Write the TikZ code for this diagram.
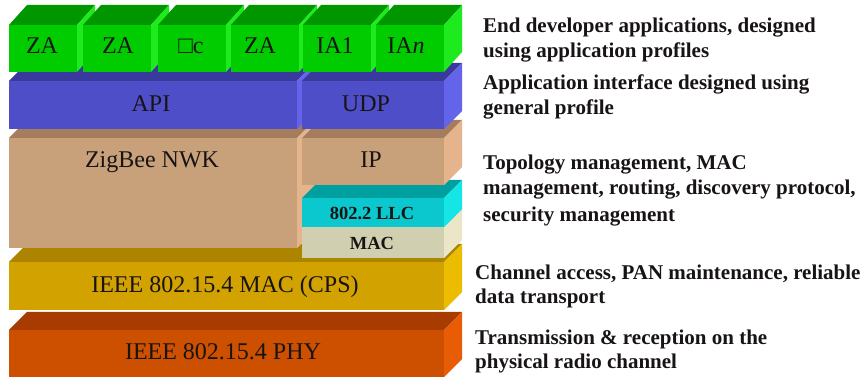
\documentclass[tikz,border=0pt]{standalone}
\usepackage{fontspec}
\setmainfont{Liberation Serif}
\definecolor{grnF}{RGB}{0,204,0}
\definecolor{grnT}{RGB}{0,150,0}
\definecolor{grnS}{RGB}{30,235,30}
\definecolor{bluF}{RGB}{78,78,200}
\definecolor{bluT}{RGB}{58,58,158}
\definecolor{bluS}{RGB}{100,100,235}
\definecolor{tanF}{RGB}{200,160,122}
\definecolor{tanT}{RGB}{165,125,92}
\definecolor{tanS}{RGB}{230,180,140}
\definecolor{cyaF}{RGB}{10,200,205}
\definecolor{cyaT}{RGB}{0,160,160}
\definecolor{cyaS}{RGB}{20,230,230}
\definecolor{begF}{RGB}{208,208,176}
\definecolor{begT}{RGB}{180,180,150}
\definecolor{begS}{RGB}{235,230,200}
\definecolor{ylwF}{RGB}{210,162,0}
\definecolor{ylwT}{RGB}{172,132,0}
\definecolor{ylwS}{RGB}{235,188,0}
\definecolor{orgF}{RGB}{205,80,0}
\definecolor{orgT}{RGB}{168,60,0}
\definecolor{orgS}{RGB}{232,92,5}
\definecolor{inkc}{RGB}{25,20,20}
% x1, x2, ytop, ybot, depth-y, colour prefix
\newcommand\mkslab[6]{%
  \fill[#6T] (#1,-#3) -- (#1+18,-#3+#5) -- (#2+18,-#3+#5) -- (#2,-#3) -- cycle;
  \fill[#6S] (#2,-#3) -- (#2+18,-#3+#5) -- (#2+18,-#4+#5) -- (#2,-#4) -- cycle;
  \fill[#6F] (#1,-#3) rectangle (#2,-#4);
}
\tikzset{
  boxlbl/.style={anchor=base, inner sep=0pt, text=inkc, font=\fontsize{24}{28}\selectfont},
  smalllbl/.style={anchor=base, inner sep=0pt, text=inkc, font=\fontsize{18.5}{22}\selectfont\bfseries},
  desc/.style={anchor=base west, inner sep=0pt, text=inkc, font=\fontsize{21}{25}\selectfont\bfseries}
}
\begin{document}
\begin{tikzpicture}[x=1pt,y=1pt]
\useasboundingbox (0,0) rectangle (860,-379);
\fill[white] (0,0) rectangle (860,-379);
% bottom layers
\mkslab{9}{444}{330}{377}{18}{org}
\mkslab{9}{444}{262}{310}{18}{ylw}
% network layer
\mkslab{9}{297}{138}{248}{18}{tan}
\mkslab{302}{444}{227}{258}{18}{beg}
\mkslab{302}{444}{198}{227}{18}{cya}
\mkslab{302}{444}{138}{185}{18}{tan}
% API / UDP
\mkslab{9}{297}{81}{129}{18}{blu}
\mkslab{302}{444}{81}{129}{18}{blu}
% applications
\mkslab{9}{77}{25}{72}{20}{grn}
\mkslab{83}{151}{25}{72}{20}{grn}
\mkslab{158}{226}{25}{72}{20}{grn}
\mkslab{231}{299}{25}{72}{20}{grn}
\mkslab{303}{371}{25}{72}{20}{grn}
\mkslab{376}{444}{25}{72}{20}{grn}
% labels
\node[boxlbl] (za1) at (42,-54) {ZA};
\node[boxlbl] (za2) at (118,-54) {ZA};
\node[boxlbl] (uc) at (191,-54) {□c};
\node[boxlbl] (za3) at (260,-54) {ZA};
\node[boxlbl] (ia1) at (335,-54) {IA1};
\node[boxlbl] (ian) at (406,-54) {IA\textit{n}};
\node[boxlbl] (api) at (151,-112) {API};
\node[boxlbl] (udp) at (366,-112) {UDP};
\node[boxlbl] (nwk) at (152,-168) {ZigBee NWK};
\node[boxlbl] (ip) at (371,-168) {IP};
\node[smalllbl] (llc) at (372,-220) {802.2 LLC};
\node[smalllbl] (mac) at (372,-250) {MAC};
\node[boxlbl] (cps) at (225,-293) {IEEE 802.15.4 MAC (CPS)};
\node[boxlbl] (phy) at (223,-360) {IEEE 802.15.4 PHY};
% descriptions
\node[desc] (d1a) at (483,-33) {End developer applications, designed};
\node[desc] (d1b) at (483,-58) {using application profiles};
\node[desc] (d2a) at (483,-90) {Application interface designed using};
\node[desc] (d2b) at (483,-115) {general profile};
\node[desc] (d3a) at (483,-170) {Topology management, MAC};
\node[desc] (d3b) at (483,-195) {management, routing, discovery protocol,};
\node[desc] (d3c) at (483,-222) {security management};
\node[desc] (d4a) at (475,-280) {Channel access, PAN maintenance, reliable};
\node[desc] (d4b) at (475,-304) {data transport};
\node[desc] (d5a) at (475,-345) {Transmission \& reception on the};
\node[desc] (d5b) at (475,-369) {physical radio channel};
\end{tikzpicture}
\end{document}
